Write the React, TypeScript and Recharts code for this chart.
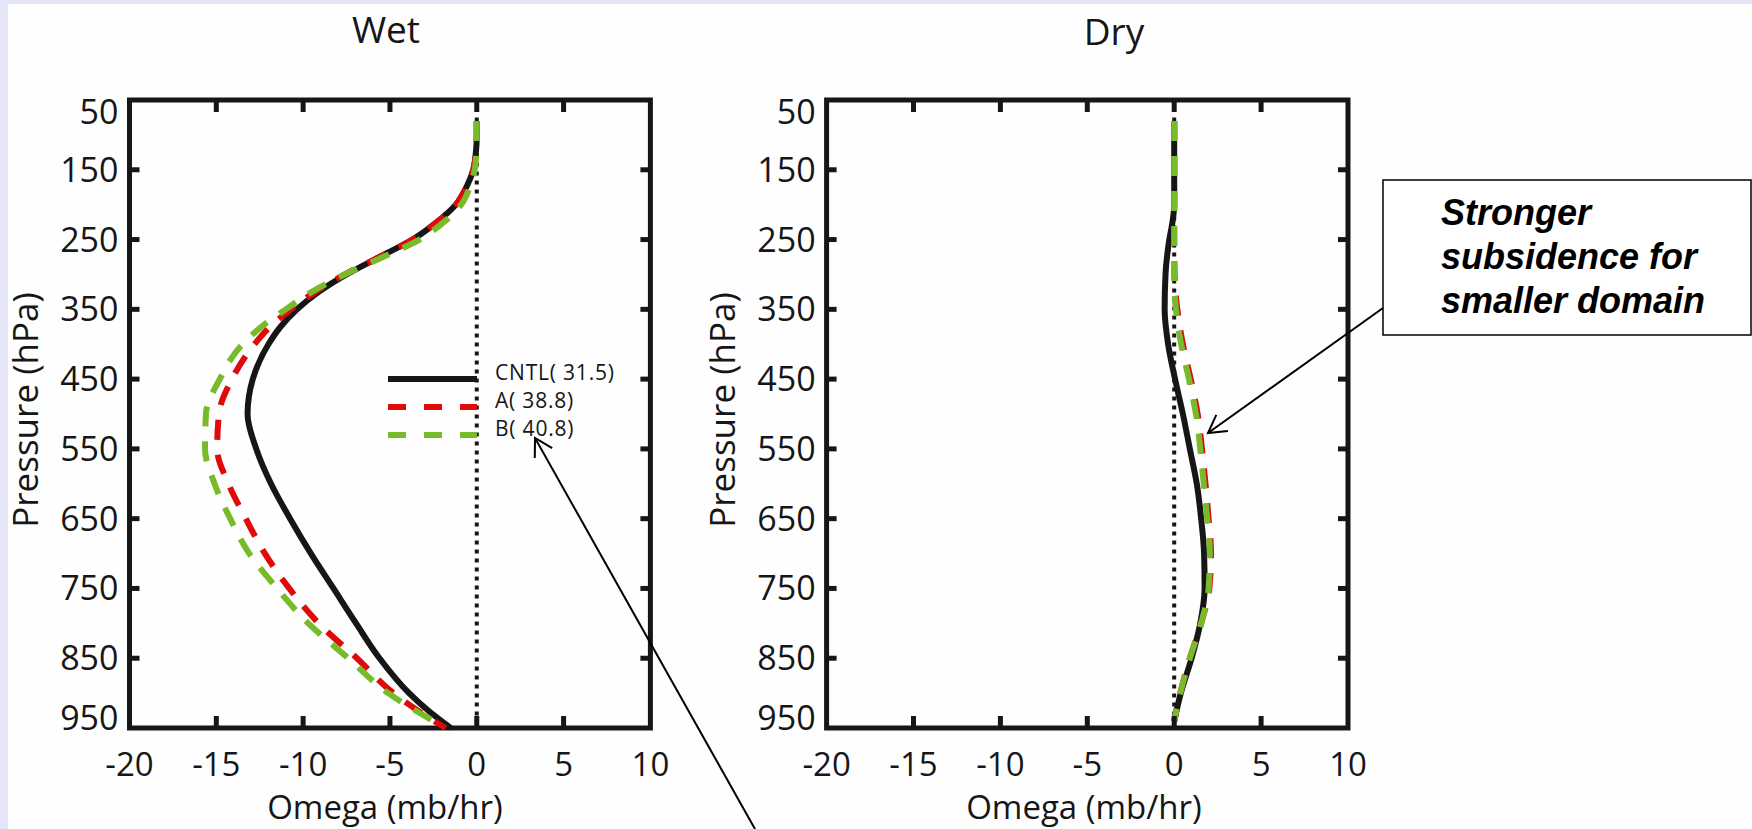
import React from 'react'
import { LineChart, Line, XAxis, YAxis, ReferenceArea, Legend } from 'recharts'

// axis ticks
const pressureTicks = [50, 150, 250, 350, 450, 550, 650, 750, 850, 950]
const omegaTicks = [-20, -15, -10, -5, 0, 5, 10]

// Wet panel, omega (mb/hr) by pressure level (hPa)
const wetLevels = [80, 100, 125, 150, 175, 200, 225, 250, 275, 300, 325, 350, 375, 400, 450, 500, 550, 600, 650, 700, 750, 800, 850, 900, 925, 950]
const wetCntl = [0, 0, -0.05, -0.2, -0.6, -1.2, -2.3, -3.7, -5.6, -7.5, -9.1, -10.35, -11.3, -12.0, -12.9, -13.2, -12.7, -11.85, -10.75, -9.55, -8.25, -6.95, -5.6, -3.9, -2.8, -1.5]
const wetA = [0, 0, -0.05, -0.2, -0.6, -1.2, -2.3, -3.7, -5.6, -7.6, -9.3, -10.7, -11.9, -12.8, -14.1, -14.85, -14.95, -14.3, -13.3, -12.2, -10.8, -9.1, -6.9, -4.8, -3.4, -1.8]
const wetLevelsB = [80, 100, 125, 150, 175, 200, 225, 250, 275, 300, 325, 350, 375, 400, 450, 500, 550, 600, 650, 700, 750, 800, 850, 900, 940]
const wetB = [0, 0, -0.02, -0.12, -0.4, -0.9, -1.9, -3.3, -5.4, -7.6, -9.5, -11.0, -12.4, -13.5, -14.8, -15.6, -15.65, -15.1, -14.2, -13.1, -11.5, -9.7, -7.4, -5.1, -2.5]

// Dry panel
const dryLevels = [80, 100, 150, 200, 225, 250, 300, 350, 400, 450, 500, 550, 600, 650, 700, 750, 800, 850, 900, 940]
const dryCntl = [0, 0, 0, 0, -0.1, -0.28, -0.5, -0.55, -0.35, 0.05, 0.5, 0.9, 1.3, 1.55, 1.72, 1.75, 1.5, 1.0, 0.38, 0]
const dryLevelsAB = [80, 100, 150, 200, 250, 300, 350, 400, 450, 500, 550, 600, 650, 700, 750, 800, 850, 900, 940]
const dryA = [0, 0, 0, 0, 0, 0.02, 0.18, 0.5, 0.95, 1.35, 1.6, 1.8, 1.98, 2.12, 2.02, 1.55, 0.9, 0.35, 0]
const dryB = [0, 0, 0, 0, 0, 0, 0.1, 0.4, 0.85, 1.25, 1.5, 1.7, 1.9, 2.05, 1.98, 1.55, 0.9, 0.35, 0]

// zero reference (dotted)
const zeroLevels = [75, 950]
const zeroValues = [0, 0]

const seriesNames = ['CNTL( 31.5)', 'A( 38.8)', 'B( 40.8)']

const toPoints = (levels: number[], values: number[]) =>
  levels.map((p, i) => ({ p, v: values[i] }))

const FONT = '"Open Sans", sans-serif'
const INK = '#161616'
const RED = '#e00a0a'
const GREEN = '#78bb2a'
const DASH = '20 15'

const CHART_W = 700
const CHART_H = 829
const PLOT_TOP = 100
const PLOT_BOTTOM = 728
const AXIS_W = 60
const AXIS_H = 60

type PanelProps = {
  left: number
  plotLeft: number
  plotRight: number
  cntl: { p: number; v: number }[]
  a: { p: number; v: number }[]
  b: { p: number; v: number }[]
  showLegend?: boolean
}

function legendContent() {
  const styles = [
    { color: INK, dash: undefined },
    { color: RED, dash: '18 18' },
    { color: GREEN, dash: '18 18' },
  ]
  return (
    <svg width={230} height={90} style={{ overflow: 'visible' }}>
      {seriesNames.map((name, i) => {
        const y = 19 + 28 * i
        return (
          <g key={name}>
            <line x1={0} x2={89} y1={y} y2={y} stroke={styles[i].color} strokeWidth={6} strokeDasharray={styles[i].dash} />
            <text x={107} y={y + 1} fontSize={21} letterSpacing={0.8} fontFamily={FONT} fill={INK}>
              {name}
            </text>
          </g>
        )
      })}
    </svg>
  )
}

function Panel({ left, plotLeft, plotRight, cntl, a, b, showLegend }: PanelProps) {
  const XTick = (props: any) => {
    const { x, payload } = props
    const edge = payload.value === -20 || payload.value === 10
    return (
      <g>
        {!edge && (
          <>
            <line x1={x} x2={x} y1={PLOT_BOTTOM} y2={PLOT_BOTTOM - 12} stroke={INK} strokeWidth={5} />
            <line x1={x} x2={x} y1={PLOT_TOP} y2={PLOT_TOP + 12} stroke={INK} strokeWidth={5} />
          </>
        )}
        <text x={x} y={PLOT_BOTTOM + 48} textAnchor="middle" fontSize={33} fontFamily={FONT} fill={INK}>
          {payload.value}
        </text>
      </g>
    )
  }

  const YTick = (props: any) => {
    const { y, payload } = props
    const v = payload.value
    const shift = v === 50 ? 12 : v === 950 ? -10 : 0
    const edge = v === 50 || v === 950
    return (
      <g>
        {!edge && (
          <>
            <line x1={plotLeft} x2={plotLeft + 10} y1={y} y2={y} stroke={INK} strokeWidth={5} />
            <line x1={plotRight} x2={plotRight - 10} y1={y} y2={y} stroke={INK} strokeWidth={5} />
          </>
        )}
        <text x={plotLeft - 11} y={y + shift + 12} textAnchor="end" fontSize={34} fontFamily={FONT} fill={INK}>
          {v}
        </text>
      </g>
    )
  }

  return (
    <div style={{ position: 'absolute', left, top: 0 }}>
      <LineChart
        width={CHART_W}
        height={CHART_H}
        layout="vertical"
        margin={{
          top: PLOT_TOP,
          bottom: CHART_H - PLOT_BOTTOM - AXIS_H,
          left: plotLeft - AXIS_W,
          right: CHART_W - plotRight,
        }}
      >
        <XAxis
          type="number"
          domain={[-20, 10]}
          ticks={omegaTicks}
          interval={0}
          height={AXIS_H}
          tickSize={0}
          tickMargin={0}
          axisLine={false}
          tickLine={false}
          tick={XTick}
        />
        <YAxis
          type="number"
          dataKey="p"
          domain={[50, 950]}
          ticks={pressureTicks}
          interval={0}
          width={AXIS_W}
          tickSize={0}
          tickMargin={0}
          axisLine={false}
          tickLine={false}
          tick={YTick}
        />
        <ReferenceArea x1={-20} x2={10} y1={50} y2={950} fill="none" fillOpacity={0} stroke={INK} strokeWidth={5} />
        <Line
          data={toPoints(zeroLevels, zeroValues)}
          dataKey="v"
          type="linear"
          stroke={INK}
          strokeWidth={4}
          strokeDasharray="4 5"
          dot={false}
          activeDot={false}
          legendType="none"
          isAnimationActive={false}
        />
        <Line
          data={cntl}
          dataKey="v"
          name={seriesNames[0]}
          type="monotone"
          stroke={INK}
          strokeWidth={6}
          dot={false}
          activeDot={false}
          isAnimationActive={false}
        />
        <Line
          data={a}
          dataKey="v"
          name={seriesNames[1]}
          type="monotone"
          stroke={RED}
          strokeWidth={6}
          strokeDasharray={DASH}
          dot={false}
          activeDot={false}
          isAnimationActive={false}
        />
        <Line
          data={b}
          dataKey="v"
          name={seriesNames[2]}
          type="monotone"
          stroke={GREEN}
          strokeWidth={6}
          strokeDasharray={DASH}
          dot={false}
          activeDot={false}
          isAnimationActive={false}
        />
        {showLegend && (
          <Legend
            layout="horizontal"
            verticalAlign="middle"
            align="center"
            content={legendContent}
            wrapperStyle={{ position: 'absolute', left: 388 - left, top: 360, width: 230, height: 90 }}
          />
        )}
      </LineChart>
    </div>
  )
}

// open arrowhead wings for a line pointing to (tx, ty) from (fx, fy)
function arrowWings(fx: number, fy: number, tx: number, ty: number, len = 20, spread = Math.PI / 6) {
  const ang = Math.atan2(fy - ty, fx - tx)
  const w1 = [tx + len * Math.cos(ang + spread), ty + len * Math.sin(ang + spread)]
  const w2 = [tx + len * Math.cos(ang - spread), ty + len * Math.sin(ang - spread)]
  return `M${w1[0]},${w1[1]} L${tx},${ty} L${w2[0]},${w2[1]}`
}

function Overlay() {
  const label = { fontFamily: FONT, fill: INK }
  const note = { fontFamily: '"Liberation Sans", Arial, sans-serif', fontWeight: 700, fontStyle: 'italic' as const, fontSize: 36, fill: '#000' }
  return (
    <svg width={1752} height={829} style={{ position: 'absolute', left: 0, top: 0, pointerEvents: 'none' }}>
      <text x={386} y={43} textAnchor="middle" fontSize={37} {...label}>Wet</text>
      <text x={1114} y={45} textAnchor="middle" fontSize={37} {...label}>Dry</text>

      <text x={385} y={819} textAnchor="middle" fontSize={33} {...label}>Omega (mb/hr)</text>
      <text x={1084} y={819} textAnchor="middle" fontSize={33} {...label}>Omega (mb/hr)</text>

      <text transform="translate(38,410) rotate(-90)" textAnchor="middle" fontSize={35} {...label}>Pressure (hPa)</text>
      <text transform="translate(735,410) rotate(-90)" textAnchor="middle" fontSize={35} {...label}>Pressure (hPa)</text>

      <rect x={1383} y={180} width={368} height={155} fill="#fff" stroke="#000" strokeWidth={1.5} />
      <text x={1441} y={225} {...note}>Stronger</text>
      <text x={1441} y={269} {...note}>subsidence for</text>
      <text x={1441} y={313} {...note}>smaller domain</text>

      <line x1={1383} y1={308} x2={1208} y2={433} stroke="#000" strokeWidth={2} />
      <path d={arrowWings(1383, 308, 1208, 433)} fill="none" stroke="#000" strokeWidth={2} />

      <line x1={755} y1={829} x2={535} y2={438} stroke="#000" strokeWidth={2} />
      <path d={arrowWings(755, 829, 535, 438)} fill="none" stroke="#000" strokeWidth={2} />
    </svg>
  )
}

export default function App() {
  return (
    <div style={{ position: 'absolute', left: 0, top: 0, width: 1752, height: 829, background: '#e5e5f8', overflow: 'hidden' }}>
      <div style={{ position: 'absolute', left: 8, top: 4, right: 0, bottom: 0, background: '#fefeff' }} />
      <Panel
        left={0}
        plotLeft={129.5}
        plotRight={650.4}
        cntl={toPoints(wetLevels, wetCntl)}
        a={toPoints(wetLevels, wetA)}
        b={toPoints(wetLevelsB, wetB)}
        showLegend
      />
      <Panel
        left={690}
        plotLeft={136.6}
        plotRight={658}
        cntl={toPoints(dryLevels, dryCntl)}
        a={toPoints(dryLevelsAB, dryA)}
        b={toPoints(dryLevelsAB, dryB)}
      />
      <Overlay />
    </div>
  )
}
